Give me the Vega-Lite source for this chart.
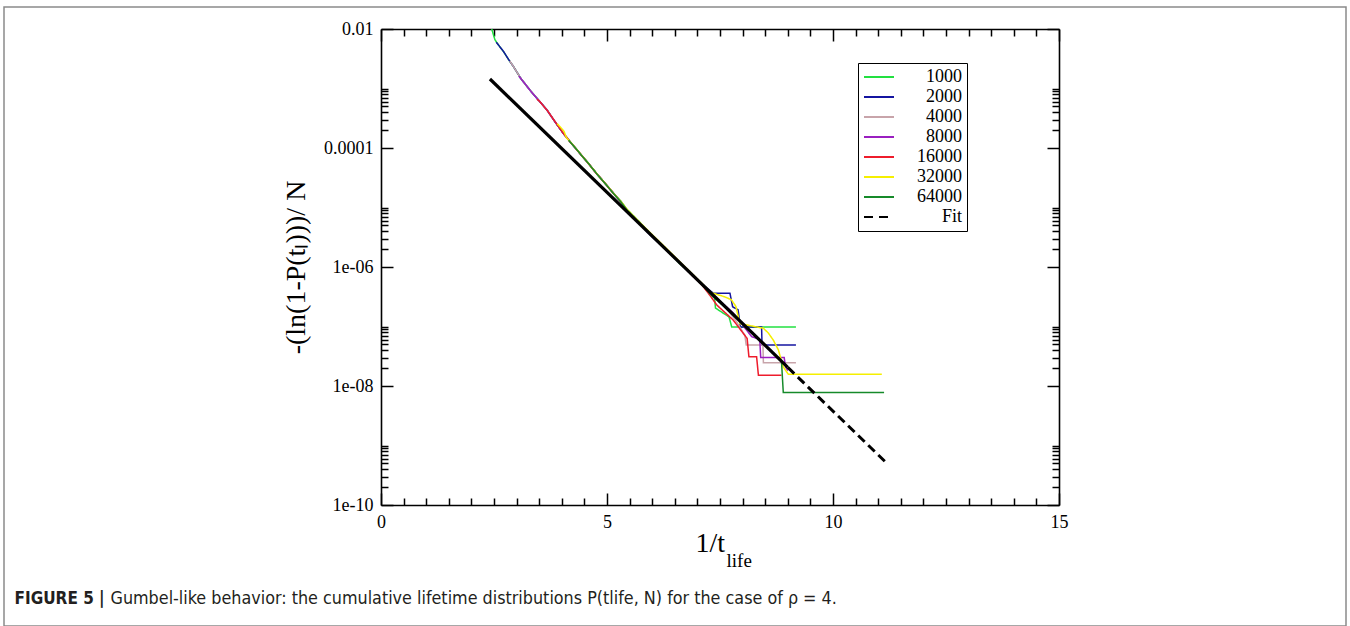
{
  "$schema": "https://vega.github.io/schema/vega-lite/v6.json",
  "width": 1342,
  "height": 619,
  "padding": {"left": 4, "top": 7, "right": 4, "bottom": 0},
  "autosize": {"type": "none"},
  "background": "white",
  "config": {
    "view": {"stroke": "#8a8a8a", "strokeWidth": 1.5},
    "font": "Liberation Serif",
    "axis": {
      "grid": false,
      "domainColor": "black",
      "domainWidth": 1.6,
      "tickColor": "black",
      "tickWidth": 1.5,
      "labelColor": "black",
      "labelFont": "Liberation Serif",
      "labelFontSize": 18,
      "titleColor": "black",
      "titleFont": "Liberation Serif",
      "titleFontWeight": "normal"
    }
  },
  "datasets": {
    "series": [
      {"N": "1000", "x": 2.45, "y": 0.01},
      {"N": "1000", "x": 2.52, "y": 0.00661},
      {"N": "1000", "x": 2.6, "y": 0.00537},
      {"N": "1000", "x": 2.71, "y": 0.00417},
      {"N": "1000", "x": 2.82, "y": 0.00309},
      {"N": "1000", "x": 2.93, "y": 0.00234},
      {"N": "1000", "x": 3.1, "y": 0.00145},
      {"N": "1000", "x": 3.3, "y": 0.000933},
      {"N": "1000", "x": 3.5, "y": 0.000617},
      {"N": "1000", "x": 3.67, "y": 0.000437},
      {"N": "1000", "x": 3.85, "y": 0.000275},
      {"N": "1000", "x": 4.03, "y": 0.000178},
      {"N": "1000", "x": 4.2, "y": 0.000123},
      {"N": "1000", "x": 4.4, "y": 0.0000813},
      {"N": "1000", "x": 4.6, "y": 0.0000537},
      {"N": "1000", "x": 4.77, "y": 0.0000372},
      {"N": "1000", "x": 4.95, "y": 0.0000257},
      {"N": "1000", "x": 5.14, "y": 0.0000174},
      {"N": "1000", "x": 5.3, "y": 0.000013},
      {"N": "1000", "x": 5.44, "y": 0.0000093},
      {"N": "1000", "x": 5.7, "y": 0.0000059},
      {"N": "1000", "x": 6.0, "y": 0.0000033},
      {"N": "1000", "x": 6.3, "y": 0.00000205},
      {"N": "1000", "x": 6.6, "y": 0.00000115},
      {"N": "1000", "x": 6.9, "y": 0.00000074},
      {"N": "1000", "x": 7.1, "y": 0.0000005},
      {"N": "1000", "x": 7.3, "y": 0.000000355},
      {"N": "1000", "x": 7.38, "y": 0.000000302},
      {"N": "1000", "x": 7.4, "y": 0.000000204},
      {"N": "1000", "x": 7.7, "y": 0.000000145},
      {"N": "1000", "x": 7.76, "y": 0.000000098},
      {"N": "1000", "x": 9.18, "y": 0.000000098},

      {"N": "2000", "x": 2.55, "y": 0.006},
      {"N": "2000", "x": 2.6, "y": 0.00537},
      {"N": "2000", "x": 2.71, "y": 0.0042},
      {"N": "2000", "x": 2.82, "y": 0.0031},
      {"N": "2000", "x": 2.93, "y": 0.00234},
      {"N": "2000", "x": 3.1, "y": 0.00145},
      {"N": "2000", "x": 3.3, "y": 0.00093},
      {"N": "2000", "x": 3.5, "y": 0.00062},
      {"N": "2000", "x": 3.67, "y": 0.00044},
      {"N": "2000", "x": 3.85, "y": 0.000275},
      {"N": "2000", "x": 4.03, "y": 0.000178},
      {"N": "2000", "x": 4.2, "y": 0.000123},
      {"N": "2000", "x": 4.4, "y": 0.000081},
      {"N": "2000", "x": 4.6, "y": 0.000054},
      {"N": "2000", "x": 4.77, "y": 0.000037},
      {"N": "2000", "x": 4.95, "y": 0.000026},
      {"N": "2000", "x": 5.14, "y": 0.0000175},
      {"N": "2000", "x": 5.3, "y": 0.0000124},
      {"N": "2000", "x": 5.44, "y": 0.000009},
      {"N": "2000", "x": 5.7, "y": 0.0000056},
      {"N": "2000", "x": 5.9, "y": 0.0000038},
      {"N": "2000", "x": 6.0, "y": 0.0000032},
      {"N": "2000", "x": 6.3, "y": 0.000002},
      {"N": "2000", "x": 6.6, "y": 0.00000122},
      {"N": "2000", "x": 6.9, "y": 0.00000071},
      {"N": "2000", "x": 7.1, "y": 0.00000052},
      {"N": "2000", "x": 7.35, "y": 0.000000363},
      {"N": "2000", "x": 7.72, "y": 0.000000363},
      {"N": "2000", "x": 7.78, "y": 0.000000214},
      {"N": "2000", "x": 7.9, "y": 0.000000191},
      {"N": "2000", "x": 7.95, "y": 0.000000098},
      {"N": "2000", "x": 8.42, "y": 0.000000098},
      {"N": "2000", "x": 8.43, "y": 0.000000049},
      {"N": "2000", "x": 9.18, "y": 0.000000049},

      {"N": "4000", "x": 2.85, "y": 0.0029},
      {"N": "4000", "x": 2.93, "y": 0.00234},
      {"N": "4000", "x": 3.1, "y": 0.00145},
      {"N": "4000", "x": 3.3, "y": 0.00093},
      {"N": "4000", "x": 3.5, "y": 0.00062},
      {"N": "4000", "x": 3.67, "y": 0.00044},
      {"N": "4000", "x": 3.85, "y": 0.00028},
      {"N": "4000", "x": 4.03, "y": 0.00018},
      {"N": "4000", "x": 4.2, "y": 0.000124},
      {"N": "4000", "x": 4.4, "y": 0.000081},
      {"N": "4000", "x": 4.6, "y": 0.000053},
      {"N": "4000", "x": 4.77, "y": 0.000037},
      {"N": "4000", "x": 4.95, "y": 0.0000255},
      {"N": "4000", "x": 5.14, "y": 0.0000172},
      {"N": "4000", "x": 5.3, "y": 0.0000128},
      {"N": "4000", "x": 5.44, "y": 0.0000092},
      {"N": "4000", "x": 5.7, "y": 0.0000057},
      {"N": "4000", "x": 6.0, "y": 0.00000345},
      {"N": "4000", "x": 6.3, "y": 0.00000195},
      {"N": "4000", "x": 6.6, "y": 0.0000012},
      {"N": "4000", "x": 6.9, "y": 0.00000073},
      {"N": "4000", "x": 7.1, "y": 0.00000051},
      {"N": "4000", "x": 7.35, "y": 0.00000034},
      {"N": "4000", "x": 7.6, "y": 0.000000219},
      {"N": "4000", "x": 7.85, "y": 0.000000126},
      {"N": "4000", "x": 8.05, "y": 0.000000071},
      {"N": "4000", "x": 8.08, "y": 0.000000049},
      {"N": "4000", "x": 8.45, "y": 0.000000049},
      {"N": "4000", "x": 8.46, "y": 0.0000000245},
      {"N": "4000", "x": 9.18, "y": 0.0000000245},

      {"N": "8000", "x": 3.05, "y": 0.0016},
      {"N": "8000", "x": 3.1, "y": 0.00145},
      {"N": "8000", "x": 3.3, "y": 0.00093},
      {"N": "8000", "x": 3.5, "y": 0.000615},
      {"N": "8000", "x": 3.67, "y": 0.000435},
      {"N": "8000", "x": 3.85, "y": 0.000275},
      {"N": "8000", "x": 4.03, "y": 0.000177},
      {"N": "8000", "x": 4.2, "y": 0.000122},
      {"N": "8000", "x": 4.4, "y": 0.000082},
      {"N": "8000", "x": 4.6, "y": 0.000054},
      {"N": "8000", "x": 4.77, "y": 0.0000375},
      {"N": "8000", "x": 4.95, "y": 0.000026},
      {"N": "8000", "x": 5.14, "y": 0.0000176},
      {"N": "8000", "x": 5.3, "y": 0.0000125},
      {"N": "8000", "x": 5.44, "y": 0.0000091},
      {"N": "8000", "x": 5.7, "y": 0.0000058},
      {"N": "8000", "x": 6.0, "y": 0.00000335},
      {"N": "8000", "x": 6.3, "y": 0.00000202},
      {"N": "8000", "x": 6.6, "y": 0.00000118},
      {"N": "8000", "x": 6.9, "y": 0.00000072},
      {"N": "8000", "x": 7.1, "y": 0.000000515},
      {"N": "8000", "x": 7.35, "y": 0.000000339},
      {"N": "8000", "x": 7.79, "y": 0.00000017},
      {"N": "8000", "x": 8.2, "y": 0.0000000676},
      {"N": "8000", "x": 8.38, "y": 0.0000000603},
      {"N": "8000", "x": 8.4, "y": 0.0000000302},
      {"N": "8000", "x": 8.92, "y": 0.0000000302},
      {"N": "8000", "x": 8.95, "y": 0.0000000209},
      {"N": "8000", "x": 9.0, "y": 0.0000000182},

      {"N": "16000", "x": 3.45, "y": 0.00066},
      {"N": "16000", "x": 3.5, "y": 0.000617},
      {"N": "16000", "x": 3.67, "y": 0.000437},
      {"N": "16000", "x": 3.85, "y": 0.000278},
      {"N": "16000", "x": 4.03, "y": 0.000178},
      {"N": "16000", "x": 4.2, "y": 0.000123},
      {"N": "16000", "x": 4.4, "y": 0.000081},
      {"N": "16000", "x": 4.6, "y": 0.0000535},
      {"N": "16000", "x": 4.77, "y": 0.000037},
      {"N": "16000", "x": 4.95, "y": 0.0000258},
      {"N": "16000", "x": 5.14, "y": 0.0000173},
      {"N": "16000", "x": 5.3, "y": 0.0000127},
      {"N": "16000", "x": 5.44, "y": 0.000009},
      {"N": "16000", "x": 5.7, "y": 0.00000575},
      {"N": "16000", "x": 6.0, "y": 0.0000034},
      {"N": "16000", "x": 6.3, "y": 0.00000198},
      {"N": "16000", "x": 6.6, "y": 0.0000012},
      {"N": "16000", "x": 6.9, "y": 0.0000007},
      {"N": "16000", "x": 7.1, "y": 0.0000005},
      {"N": "16000", "x": 7.3, "y": 0.000000316},
      {"N": "16000", "x": 7.43, "y": 0.000000229},
      {"N": "16000", "x": 7.79, "y": 0.000000129},
      {"N": "16000", "x": 7.95, "y": 0.0000000891},
      {"N": "16000", "x": 8.1, "y": 0.0000000631},
      {"N": "16000", "x": 8.14, "y": 0.0000000309},
      {"N": "16000", "x": 8.31, "y": 0.0000000309},
      {"N": "16000", "x": 8.35, "y": 0.0000000151},
      {"N": "16000", "x": 8.86, "y": 0.0000000151},

      {"N": "32000", "x": 3.9, "y": 0.000255},
      {"N": "32000", "x": 3.98, "y": 0.00022},
      {"N": "32000", "x": 4.05, "y": 0.00019},
      {"N": "32000", "x": 4.1, "y": 0.00015},
      {"N": "32000", "x": 4.2, "y": 0.000124},
      {"N": "32000", "x": 4.4, "y": 0.000082},
      {"N": "32000", "x": 4.6, "y": 0.000054},
      {"N": "32000", "x": 4.77, "y": 0.0000375},
      {"N": "32000", "x": 4.95, "y": 0.000026},
      {"N": "32000", "x": 5.14, "y": 0.0000176},
      {"N": "32000", "x": 5.3, "y": 0.0000128},
      {"N": "32000", "x": 5.44, "y": 0.0000094},
      {"N": "32000", "x": 5.7, "y": 0.0000059},
      {"N": "32000", "x": 6.0, "y": 0.0000035},
      {"N": "32000", "x": 6.3, "y": 0.0000021},
      {"N": "32000", "x": 6.6, "y": 0.00000125},
      {"N": "32000", "x": 6.76, "y": 0.00000095},
      {"N": "32000", "x": 6.9, "y": 0.00000075},
      {"N": "32000", "x": 7.1, "y": 0.00000053},
      {"N": "32000", "x": 7.3, "y": 0.000000372},
      {"N": "32000", "x": 7.6, "y": 0.000000316},
      {"N": "32000", "x": 7.75, "y": 0.000000282},
      {"N": "32000", "x": 7.85, "y": 0.000000219},
      {"N": "32000", "x": 7.94, "y": 0.000000112},
      {"N": "32000", "x": 8.46, "y": 0.0000000933},
      {"N": "32000", "x": 8.57, "y": 0.0000000776},
      {"N": "32000", "x": 8.68, "y": 0.0000000589},
      {"N": "32000", "x": 8.79, "y": 0.0000000407},
      {"N": "32000", "x": 8.9, "y": 0.0000000209},
      {"N": "32000", "x": 9.01, "y": 0.0000000158},
      {"N": "32000", "x": 11.08, "y": 0.0000000158},

      {"N": "64000", "x": 4.15, "y": 0.000135},
      {"N": "64000", "x": 4.2, "y": 0.000123},
      {"N": "64000", "x": 4.4, "y": 0.0000813},
      {"N": "64000", "x": 4.6, "y": 0.0000537},
      {"N": "64000", "x": 4.77, "y": 0.0000372},
      {"N": "64000", "x": 4.95, "y": 0.0000257},
      {"N": "64000", "x": 5.14, "y": 0.0000174},
      {"N": "64000", "x": 5.3, "y": 0.0000126},
      {"N": "64000", "x": 5.44, "y": 0.00000912},
      {"N": "64000", "x": 5.7, "y": 0.00000575},
      {"N": "64000", "x": 6.0, "y": 0.00000339},
      {"N": "64000", "x": 6.3, "y": 0.000002},
      {"N": "64000", "x": 6.6, "y": 0.0000012},
      {"N": "64000", "x": 6.9, "y": 0.000000724},
      {"N": "64000", "x": 7.1, "y": 0.000000513},
      {"N": "64000", "x": 7.3, "y": 0.000000339},
      {"N": "64000", "x": 7.8, "y": 0.000000158},
      {"N": "64000", "x": 8.1, "y": 0.0000000912},
      {"N": "64000", "x": 8.4, "y": 0.0000000575},
      {"N": "64000", "x": 8.7, "y": 0.0000000347},
      {"N": "64000", "x": 8.86, "y": 0.0000000263},
      {"N": "64000", "x": 8.9, "y": 0.00000000776},
      {"N": "64000", "x": 11.13, "y": 0.00000000776}
    ],
    "fit": [
      {"x": 2.41, "y": 0.001445},
      {"x": 9.0, "y": 0.0000000206},
      {"x": 11.22, "y": 0.000000000479}
    ]
  },
  "layer": [
    {
      "data": {"name": "series"},
      "mark": {"type": "line", "strokeWidth": 1.5},
      "encoding": {
        "x": {
          "field": "x", "type": "quantitative",
          "scale": {"domain": [0, 15], "range": [377, 1055], "nice": false, "zero": false},
          "axis": {
            "orient": "bottom", "offset": -121,
            "values": [0,0.5,1,1.5,2,2.5,3,3.5,4,4.5,5,5.5,6,6.5,7,7.5,8,8.5,9,9.5,10,10.5,11,11.5,12,12.5,13,13.5,14,14.5,15],
            "labelExpr": "datum.value % 5 === 0 ? format(datum.value, 'd') : ''",
            "tickSize": {"condition": {"test": "datum.value % 5 === 0", "value": -12}, "value": -7},
            "labelPadding": 20, "labelFlush": false, "labelOverlap": false,
            "title": "1/t", "titleX": 691, "titleY": 46, "titleAlign": "left", "titleBaseline": "alphabetic", "titleFontSize": 28
          }
        },
        "y": {
          "field": "y", "type": "quantitative",
          "scale": {"type": "log", "domain": [1e-10, 0.01], "range": [498, 22], "nice": false},
          "axis": {
            "orient": "left", "offset": -377,
            "values": [1e-10,2e-10,3e-10,4e-10,5e-10,6e-10,7e-10,8e-10,9e-10,1e-9,1e-8,2e-8,3e-8,4e-8,5e-8,6e-8,7e-8,8e-8,9e-8,1e-7,1e-6,2e-6,3e-6,4e-6,5e-6,6e-6,7e-6,8e-6,9e-6,1e-5,0.0001,0.0002,0.0003,0.0004,0.0005,0.0006,0.0007,0.0008,0.0009,0.001,0.01],
            "labelExpr": "(abs(log(datum.value)/LN10 - round(log(datum.value)/LN10)) < 1e-6 && round(log(datum.value)/LN10) % 2 == 0) ? (round(log(datum.value)/LN10) == -2 ? '0.01' : round(log(datum.value)/LN10) == -4 ? '0.0001' : round(log(datum.value)/LN10) == -10 ? '1e-10' : '1e-0' + (-round(log(datum.value)/LN10))) : ''",
            "tickSize": {"condition": {"test": "abs(log(datum.value)/LN10 - round(log(datum.value)/LN10)) < 1e-6 && round(log(datum.value)/LN10) % 2 == 0", "value": -12}, "value": -7},
            "labelPadding": 20, "labelFlush": false, "labelOverlap": false,
            "title": "-(ln(1-P(tₗ)))/ N", "titleAngle": -90, "titleX": -85, "titleY": 260, "titleAlign": "center", "titleBaseline": "middle", "titleFontSize": 28
          }
        },
        "color": {
          "field": "N", "type": "nominal",
          "scale": {
            "domain": ["1000", "2000", "4000", "8000", "16000", "32000", "64000", "Fit"],
            "range": ["#22e040", "#1414a0", "#c8a4aa", "#9a1fc0", "#ee1c2c", "#f5ef00", "#168a2a", "#000000"]
          },
          "legend": {
            "orient": "none", "legendX": 854, "legendY": 56, "title": null,
            "symbolType": "stroke", "symbolSize": 900, "symbolStrokeWidth": 1.8,
            "labelAlign": "right", "labelOffset": 67, "labelFontSize": 18, "labelFont": "Liberation Serif", "labelColor": "black", "labelLimit": 200,
            "strokeColor": "black", "padding": 5, "rowPadding": 2, "clipHeight": 18
          }
        },
        "strokeDash": {
          "field": "N", "type": "nominal",
          "scale": {
            "domain": ["1000", "2000", "4000", "8000", "16000", "32000", "64000", "Fit"],
            "range": [[1, 0], [1, 0], [1, 0], [1, 0], [1, 0], [1, 0], [1, 0], [9, 6]]
          },
          "legend": {
            "orient": "none", "legendX": 854, "legendY": 56, "title": null,
            "symbolType": "stroke", "symbolSize": 900, "symbolStrokeWidth": 1.8,
            "labelAlign": "right", "labelOffset": 67, "labelFontSize": 18, "labelFont": "Liberation Serif", "labelColor": "black", "labelLimit": 200,
            "strokeColor": "black", "padding": 5, "rowPadding": 2, "clipHeight": 18
          }
        }
      }
    },
    {
      "data": {"name": "fit"},
      "transform": [{"filter": "datum.x <= 9.0"}],
      "mark": {"type": "line", "color": "black", "strokeWidth": 3.2},
      "encoding": {
        "x": {
          "field": "x", "type": "quantitative",
          "scale": {"domain": [0, 15], "range": [377, 1055], "nice": false, "zero": false},
          "axis": {
            "orient": "top", "offset": -22,
            "values": [0,0.5,1,1.5,2,2.5,3,3.5,4,4.5,5,5.5,6,6.5,7,7.5,8,8.5,9,9.5,10,10.5,11,11.5,12,12.5,13,13.5,14,14.5,15],
            "labels": false,
            "tickSize": {"condition": {"test": "datum.value % 5 === 0", "value": -12}, "value": -7},
            "title": "Gumbel-like behavior: the cumulative lifetime distributions P(tlife, N) for the case of ρ = 4.",
            "titleX": 106, "titleY": 569, "titleAngle": 0, "titleAlign": "left", "titleBaseline": "middle",
            "titleFont": "Liberation Sans Narrow, DejaVu Sans Condensed, Liberation Sans, sans-serif", "titleFontSize": 17.8, "titleColor": "#231f20"
          }
        },
        "y": {
          "field": "y", "type": "quantitative",
          "scale": {"type": "log", "domain": [1e-10, 0.01], "range": [498, 22], "nice": false},
          "axis": {
            "orient": "right", "offset": -287,
            "values": [1e-10,2e-10,3e-10,4e-10,5e-10,6e-10,7e-10,8e-10,9e-10,1e-9,1e-8,2e-8,3e-8,4e-8,5e-8,6e-8,7e-8,8e-8,9e-8,1e-7,1e-6,2e-6,3e-6,4e-6,5e-6,6e-6,7e-6,8e-6,9e-6,1e-5,0.0001,0.0002,0.0003,0.0004,0.0005,0.0006,0.0007,0.0008,0.0009,0.001,0.01],
            "labels": false,
            "tickSize": {"condition": {"test": "abs(log(datum.value)/LN10 - round(log(datum.value)/LN10)) < 1e-6 && round(log(datum.value)/LN10) % 2 == 0", "value": -12}, "value": -7},
            "title": "FIGURE 5 |",
            "titleX": -1045, "titleY": 591, "titleAngle": 0, "titleAlign": "left", "titleBaseline": "middle",
            "titleFont": "Liberation Sans Narrow, DejaVu Sans Condensed, Liberation Sans, sans-serif", "titleFontSize": 17, "titleFontWeight": "bold", "titleColor": "#231f20"
          }
        }
      }
    },
    {
      "data": {"name": "fit"},
      "transform": [{"filter": "datum.x >= 9.0"}],
      "mark": {"type": "line", "color": "black", "strokeWidth": 3, "strokeDash": [9, 5]},
      "encoding": {
        "x": {
          "field": "x", "type": "quantitative",
          "scale": {"domain": [0, 15], "range": [377, 1055], "nice": false, "zero": false},
          "axis": {
            "orient": "bottom", "offset": -121, "ticks": false, "labels": false, "domain": false,
            "title": "life", "titleX": 722, "titleY": 61, "titleAlign": "left", "titleBaseline": "alphabetic", "titleFontSize": 19
          }
        },
        "y": {
          "field": "y", "type": "quantitative",
          "scale": {"type": "log", "domain": [1e-10, 0.01], "range": [498, 22], "nice": false},
          "axis": null
        }
      }
    }
  ],
  "resolve": {"axis": {"x": "independent", "y": "independent"}}
}
